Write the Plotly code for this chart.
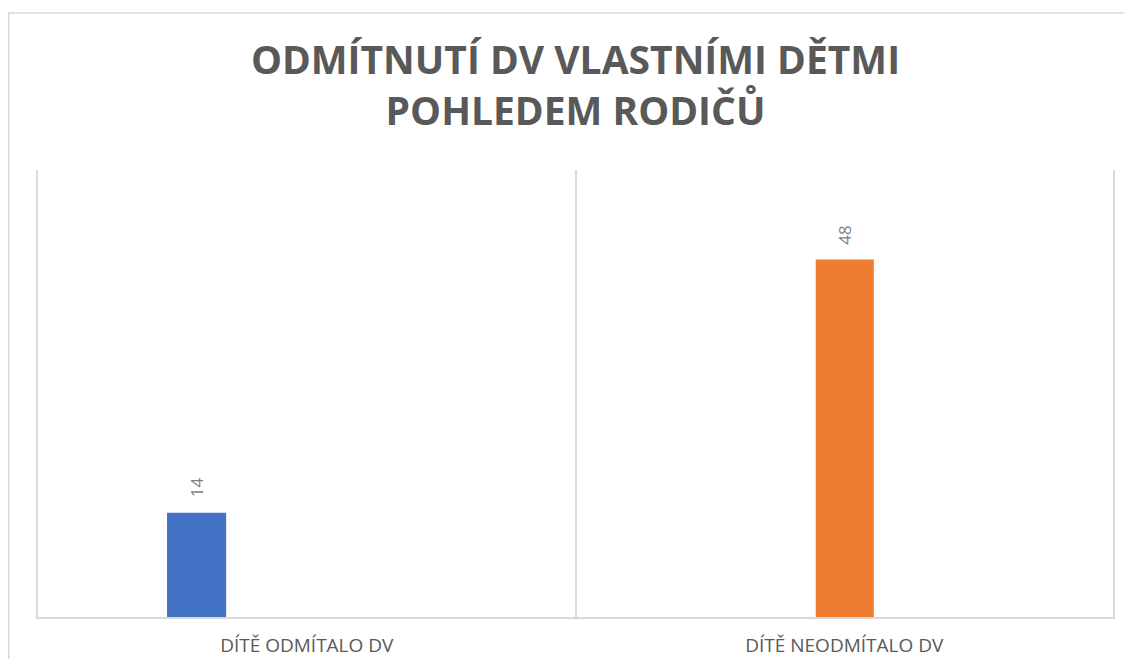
import plotly.graph_objects as go

categories = ["DÍTĚ ODMÍTALO DV", "DÍTĚ NEODMÍTALO DV"]
values = [14, 48]
colors = ["#4472C4", "#ED7D31"]
title_lines = ["ODMÍTNUTÍ DV VLASTNÍMI DĚTMI", "POHLEDEM RODIČŮ"]

# per-bar placement within its category slot (category units)
bar_offsets = [-0.26, -0.053]
bar_widths = [0.11, 0.108]

# figure sized so it fits the page together with the 8px body margin
W, H = 1116, 651
ml, mr, mt, mb = 30, 11, 162, 42
pw = W - ml - mr
ph = H - mt - mb

fig = go.Figure()
for cat, val, col, off, wd in zip(categories, values, colors, bar_offsets, bar_widths):
    fig.add_trace(go.Bar(
        x=[cat], y=[val], marker=dict(color=col, line=dict(width=0)),
        offset=off, width=wd,
        showlegend=False, hoverinfo="skip",
    ))

annotations = []
for i, (val, off, wd) in enumerate(zip(values, bar_offsets, bar_widths)):
    annotations.append(dict(
        x=i + off + wd / 2, y=val, xref="x", yref="y",
        text=str(val), showarrow=False, textangle=-90,
        xanchor="center", yanchor="bottom", yshift=13,
        font=dict(family="Open Sans", size=17, color="#7f7f7f"),
    ))

fig.update_layout(
    width=W, height=H,
    margin=dict(l=ml, r=mr, t=mt, b=mb, autoexpand=False),
    paper_bgcolor="white", plot_bgcolor="white",
    barmode="overlay",
    title=dict(
        text="<br>".join(title_lines),
        x=0.5, xref="paper", xanchor="center",
        y=1 - 66 / H, yref="container", yanchor="middle",
        font=dict(family="Open Sans", size=39, color="#595959", weight="bold"),
    ),
    xaxis=dict(
        type="category", categoryorder="array", categoryarray=categories,
        range=[-0.5, 1.5], tickson="boundaries", automargin=False,
        showgrid=True, gridcolor="#d9d9d9", gridwidth=1.5,
        showline=True, linecolor="#d9d9d9", linewidth=1.5,
        ticks="", ticklabelstandoff=10,
        tickfont=dict(family="Open Sans", size=19, color="#595959"),
        zeroline=False,
    ),
    yaxis=dict(
        range=[0, 60], showgrid=False, showticklabels=False, automargin=False,
        zeroline=False, showline=True, mirror=True,
        linecolor="#d9d9d9", linewidth=1.5, ticks="",
    ),
    annotations=annotations,
    shapes=[dict(
        type="rect", xref="paper", yref="paper",
        x0=(0.75 - ml) / pw, x1=(W + 20 - ml) / pw,
        y0=-(mb + 20) / ph, y1=(H - mb - 5) / ph,
        line=dict(color="#d9d9d9", width=1.5), fillcolor="rgba(0,0,0,0)",
        layer="below",
    )],
)

fig.write_html("out.html")
